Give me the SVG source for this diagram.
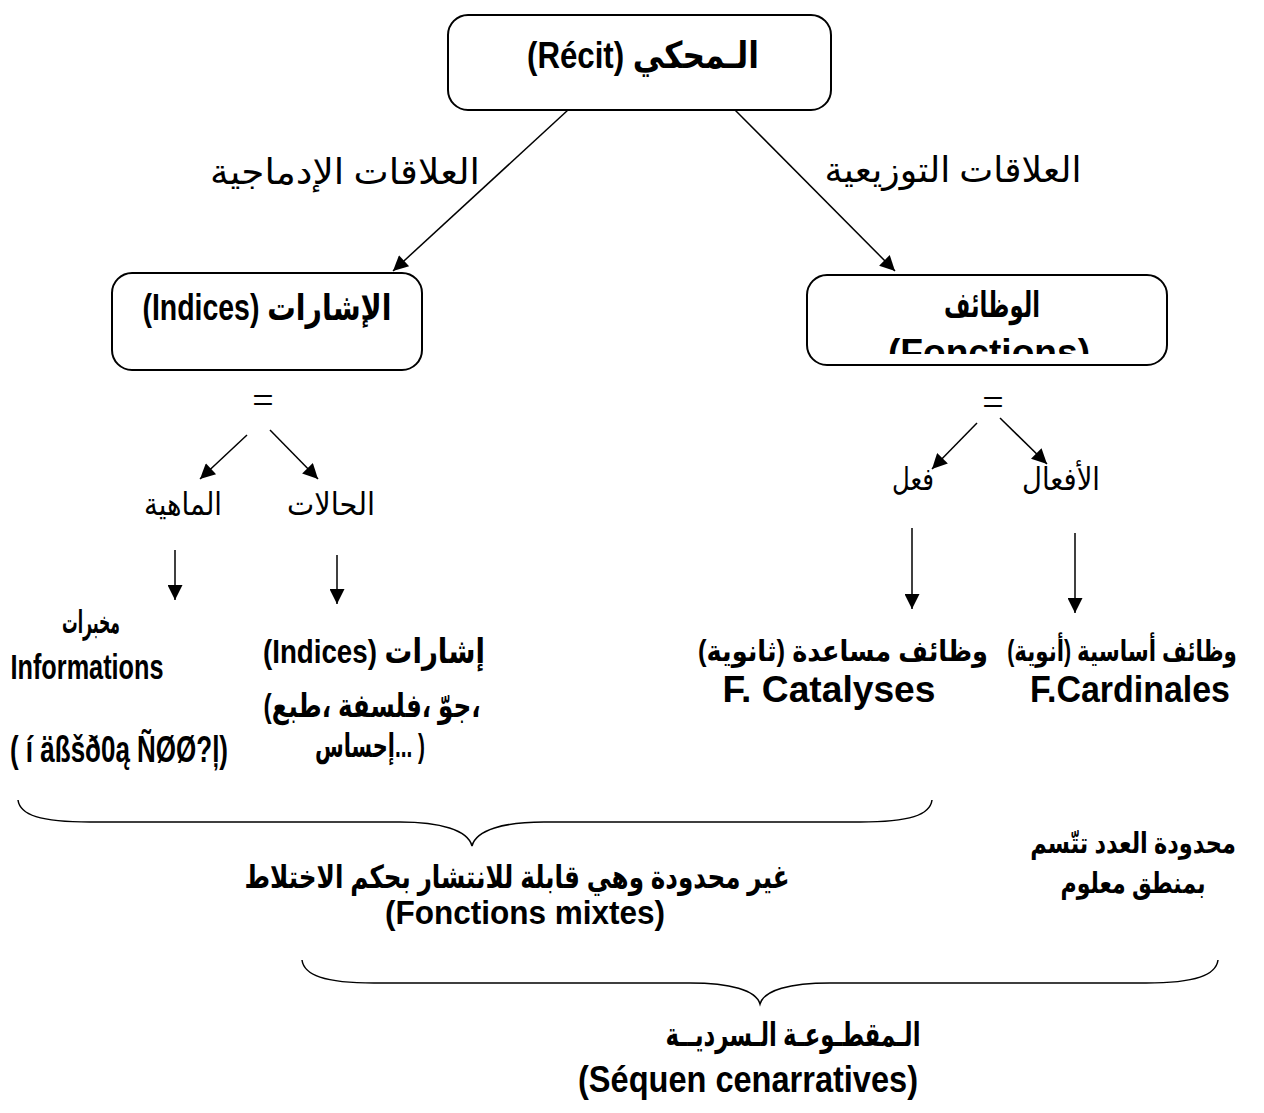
<svg xmlns="http://www.w3.org/2000/svg" width="1264" height="1113" viewBox="0 0 1264 1113">
  <style>
    .box { fill: #fff; stroke: #000; stroke-width: 2; }
    .b { font-family: "Liberation Sans", "DejaVu Sans", sans-serif; font-weight: bold; fill: #000; }
    .r { font-family: "Liberation Serif", "DejaVu Sans", serif; fill: #000; }
    .eq { font-family: "Liberation Serif", serif; fill: #000; }
    .line { stroke: #000; stroke-width: 1.5; fill: none; }
    .brace { stroke: #000; stroke-width: 1.5; fill: none; }
  </style>
  <defs>
    <marker id="arrowL" viewBox="0 0 10 10" refX="10" refY="5" markerWidth="18" markerHeight="15" markerUnits="userSpaceOnUse" orient="auto">
      <path d="M0,0 L10,5 L0,10 Z" fill="#000"/>
    </marker>
    <clipPath id="fonctionsClip">
      <rect x="807" y="275" width="360" height="79"/>
    </clipPath>
  </defs>

  <rect width="1264" height="1113" fill="#fff"/>

  <!-- connectors -->
  <g id="connectors">
    <line class="line" x1="568" y1="110" x2="393" y2="271" marker-end="url(#arrowL)"/>
    <line class="line" x1="735" y1="110" x2="895" y2="271" marker-end="url(#arrowL)"/>
    <line class="line" x1="247" y1="435" x2="200" y2="479" marker-end="url(#arrowL)"/>
    <line class="line" x1="270" y1="430" x2="318" y2="479" marker-end="url(#arrowL)"/>
    <line class="line" x1="977" y1="423" x2="932" y2="469" marker-end="url(#arrowL)"/>
    <line class="line" x1="1000" y1="418" x2="1047" y2="464" marker-end="url(#arrowL)"/>
    <line class="line" x1="175" y1="550" x2="175" y2="600" marker-end="url(#arrowL)"/>
    <line class="line" x1="337" y1="555" x2="337" y2="604" marker-end="url(#arrowL)"/>
    <line class="line" x1="912" y1="528" x2="912" y2="609" marker-end="url(#arrowL)"/>
    <line class="line" x1="1075" y1="533" x2="1075" y2="613" marker-end="url(#arrowL)"/>
    <!-- braces -->
    <path class="brace" d="M18,800 C20,815 40,822 90,822 L400,822 C440,822 468,830 472,846 C476,830 504,822 544,822 L860,822 C910,822 930,815 932,800"/>
    <path class="brace" d="M302,960 C304,975 324,983 374,983 L690,983 C730,983 756,990 760,1004 C764,990 790,983 830,983 L1146,983 C1196,983 1216,975 1218,960"/>
  </g>

  <!-- root node -->
  <g id="recit">
    <rect class="box" x="448" y="15" width="383" height="95" rx="20"/>
    <text class="b" x="643" y="68" font-size="37" text-anchor="middle" textLength="232" lengthAdjust="spacingAndGlyphs">(Récit) الـمحكي</text>
  </g>

  <!-- relation labels -->
  <g id="label-integrative">
    <text class="r" x="345" y="184" font-size="35" text-anchor="middle" direction="rtl" textLength="270" lengthAdjust="spacingAndGlyphs">العلاقات الإدماجية</text>
  </g>
  <g id="label-distributive">
    <text class="r" x="953" y="182" font-size="35" text-anchor="middle" direction="rtl" textLength="257" lengthAdjust="spacingAndGlyphs">العلاقات التوزيعية</text>
  </g>

  <!-- indices node -->
  <g id="indices">
    <rect class="box" x="112" y="273" width="310" height="97" rx="20"/>
    <text class="b" x="267" y="320" font-size="36" text-anchor="middle" textLength="249" lengthAdjust="spacingAndGlyphs">(Indices) الإشارات</text>
  </g>

  <!-- fonctions node -->
  <g id="fonctions">
    <rect class="box" x="807" y="275" width="360" height="90" rx="20"/>
    <text class="b" x="992" y="317" font-size="35" text-anchor="middle" textLength="96" lengthAdjust="spacingAndGlyphs">الوظائف</text>
    <text class="b" x="989" y="365" font-size="37" text-anchor="middle" textLength="202" lengthAdjust="spacingAndGlyphs" clip-path="url(#fonctionsClip)">(Fonctions)</text>
  </g>

  <!-- equals signs -->
  <g id="eq-left"><text class="eq" x="263" y="413" font-size="38" text-anchor="middle">=</text></g>
  <g id="eq-right"><text class="eq" x="993" y="415" font-size="38" text-anchor="middle">=</text></g>

  <!-- second level labels -->
  <g id="mahiya"><text class="r" x="183" y="515" font-size="31" text-anchor="middle" direction="rtl" textLength="78" lengthAdjust="spacingAndGlyphs">الماهية</text></g>
  <g id="halat"><text class="r" x="331" y="515" font-size="31" text-anchor="middle" direction="rtl" textLength="88" lengthAdjust="spacingAndGlyphs">الحالات</text></g>
  <g id="fiel"><text class="r" x="913" y="490" font-size="31" text-anchor="middle" direction="rtl" textLength="42" lengthAdjust="spacingAndGlyphs">فعل</text></g>
  <g id="afaal"><text class="r" x="1061" y="490" font-size="31" text-anchor="middle" direction="rtl" textLength="78" lengthAdjust="spacingAndGlyphs">الأفعال</text></g>

  <!-- informations -->
  <g id="informations">
    <text class="b" x="91" y="633" font-size="31" text-anchor="middle" direction="rtl" textLength="58" lengthAdjust="spacingAndGlyphs">مخبرات</text>
    <text class="b" x="87" y="679" font-size="35" text-anchor="middle" textLength="153" lengthAdjust="spacingAndGlyphs">Informations</text>
    <text class="b" x="119" y="762" font-size="37" text-anchor="middle" textLength="218" lengthAdjust="spacingAndGlyphs">( í äßšð0ą ÑØØ?ļ)</text>
  </g>

  <!-- indices (signs) -->
  <g id="indices-signs">
    <text class="b" x="374" y="663" font-size="34" text-anchor="middle" textLength="222" lengthAdjust="spacingAndGlyphs">(Indices)  إشارات</text>
    <text class="b" x="372" y="717" font-size="33" text-anchor="middle" textLength="217" lengthAdjust="spacingAndGlyphs">(طبع،&#x200E; فلسفة،&#x200E; جوّ،&#x200E;</text>
    <text class="b" x="370" y="757" font-size="33" text-anchor="middle" textLength="110" lengthAdjust="spacingAndGlyphs">إحساس... )</text>
  </g>

  <!-- catalyses -->
  <g id="catalyses">
    <text class="b" x="843" y="661" font-size="29" text-anchor="middle" direction="rtl" textLength="290" lengthAdjust="spacingAndGlyphs">وظائف مساعدة (ثانوية)</text>
    <text class="b" x="829" y="702" font-size="36" text-anchor="middle" textLength="213" lengthAdjust="spacingAndGlyphs">F. Catalyses</text>
  </g>

  <!-- cardinales (condensed horizontally to fit the right margin) -->
  <g id="cardinales">
    <text class="b" transform="translate(1122,661) scale(0.8,1)" x="0" y="0" font-size="29" text-anchor="middle" direction="rtl" textLength="287" lengthAdjust="spacingAndGlyphs">وظائف أساسية (أنوية)</text>
    <text class="b" x="1130" y="702" font-size="36" text-anchor="middle" textLength="200" lengthAdjust="spacingAndGlyphs">F.Cardinales</text>
  </g>

  <!-- mixed functions -->
  <g id="mixtes">
    <text class="b" x="517" y="888" font-size="32" text-anchor="middle" direction="rtl" textLength="545" lengthAdjust="spacingAndGlyphs">غير محدودة وهي قابلة للانتشار بحكم الاختلاط</text>
    <text class="b" x="525" y="924" font-size="34" text-anchor="middle" textLength="280" lengthAdjust="spacingAndGlyphs">(Fonctions mixtes)</text>
  </g>

  <!-- limited -->
  <g id="limited">
    <text class="b" transform="translate(1133,853) scale(0.8,1)" x="0" y="0" font-size="29" text-anchor="middle" direction="rtl" textLength="257" lengthAdjust="spacingAndGlyphs">محدودة العدد تتّسم</text>
    <text class="b" x="1133" y="893" font-size="29" text-anchor="middle" direction="rtl" textLength="145" lengthAdjust="spacingAndGlyphs">بمنطق معلوم</text>
  </g>

  <!-- narrative sequences -->
  <g id="sequences">
    <text class="b" x="793" y="1046" font-size="33" text-anchor="middle" direction="rtl" textLength="255" lengthAdjust="spacingAndGlyphs">الـمقطـوعـة الـسرديــة</text>
    <text class="b" x="748" y="1092" font-size="36" text-anchor="middle" textLength="340" lengthAdjust="spacingAndGlyphs">(Séquen cenarratives)</text>
  </g>
</svg>
